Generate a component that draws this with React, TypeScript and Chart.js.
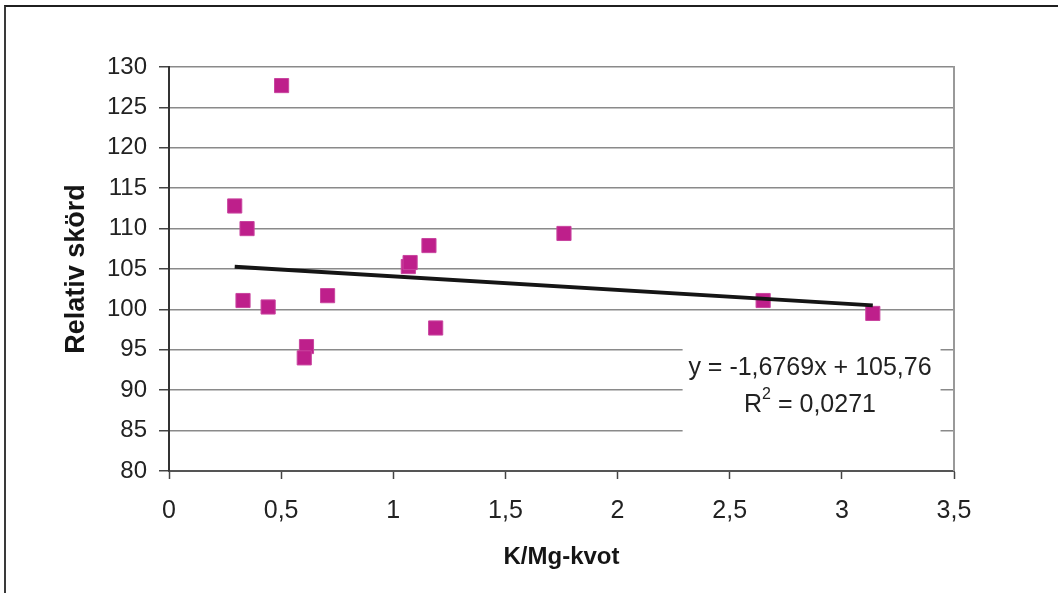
import React, { useEffect, useRef } from "react";
import { Chart, registerables } from "chart.js";

Chart.register(...registerables);

// K/Mg ratio (x) and relative yield (y)
const kmgRatio = [0.502, 0.293, 0.348, 1.067, 1.075, 1.159, 0.33, 0.442, 0.707, 0.613, 0.603, 1.189, 2.649, 3.138, 1.761];
const relativeYield = [127.7, 112.8, 110.0, 105.3, 105.8, 107.9, 101.1, 100.3, 101.7, 95.4, 94.0, 97.7, 101.1, 99.5, 109.4];

// Linear trend line (from the chart's equation label)
const trendSlope = -1.6769;
const trendIntercept = 105.76;
const equationLine1 = "y = -1,6769x + 105,76";
const equationLine2Prefix = "R";
const equationLine2Sup = "2";
const equationLine2Rest = " = 0,0271";

// Axes
const xMin = 0;
const xMax = 3.5;
const xStep = 0.5;
const yMin = 80;
const yMax = 130;
const yStep = 5;
const xTitle = "K/Mg-kvot";
const yTitle = "Relativ skörd";

// Equation label box position (data units)
const labelBoxX = [2.29, 3.44];
const labelBoxY = [95.6, 83.2];
const labelCenterX = 2.858;
const labelLineY = [92.75, 88.2];

const FONT = "'Liberation Sans', Arial, Helvetica, sans-serif";

const equationPlugin = {
  id: "equationBox",
  beforeDatasetsDraw(chart: any) {
    const { ctx, chartArea } = chart;
    ctx.save();
    ctx.strokeStyle = "#999999";
    ctx.lineWidth = 2;
    ctx.beginPath();
    ctx.moveTo(chartArea.right, chartArea.top - 1);
    ctx.lineTo(chartArea.right, chartArea.bottom);
    ctx.stroke();
    ctx.restore();
  },
  afterDatasetsDraw(chart: any) {
    const { ctx } = chart;
    const xs = chart.scales.x;
    const ys = chart.scales.y;
    const x1 = xs.getPixelForValue(labelBoxX[0]);
    const x2 = xs.getPixelForValue(labelBoxX[1]);
    const y1 = ys.getPixelForValue(labelBoxY[0]);
    const y2 = ys.getPixelForValue(labelBoxY[1]);
    ctx.save();
    ctx.fillStyle = "#ffffff";
    ctx.fillRect(x1, y1, x2 - x1, y2 - y1);
    const cx = xs.getPixelForValue(labelCenterX);
    ctx.fillStyle = "#222222";
    ctx.textBaseline = "middle";
    ctx.textAlign = "center";
    ctx.font = `25px ${FONT}`;
    ctx.fillText(equationLine1, cx, ys.getPixelForValue(labelLineY[0]));
    // second line with superscript
    const ly = ys.getPixelForValue(labelLineY[1]);
    ctx.font = `25px ${FONT}`;
    const wR = ctx.measureText(equationLine2Prefix).width;
    const wRest = ctx.measureText(equationLine2Rest).width;
    ctx.font = `16px ${FONT}`;
    const wSup = ctx.measureText(equationLine2Sup).width;
    const total = wR + wSup + wRest;
    let sx = cx - total / 2;
    ctx.textAlign = "left";
    ctx.font = `25px ${FONT}`;
    ctx.fillText(equationLine2Prefix, sx, ly);
    sx += wR;
    ctx.font = `16px ${FONT}`;
    ctx.fillText(equationLine2Sup, sx, ly - 10);
    sx += wSup;
    ctx.font = `25px ${FONT}`;
    ctx.fillText(equationLine2Rest, sx, ly);
    ctx.restore();
  },
};

export default function App() {
  const canvasRef = useRef<HTMLCanvasElement | null>(null);

  useEffect(() => {
    if (!canvasRef.current) return;
    const points = kmgRatio.map((x, i) => ({ x, y: relativeYield[i] }));
    const tMin = Math.min(...kmgRatio);
    const tMax = Math.max(...kmgRatio);
    const trend = [
      { x: tMin, y: trendSlope * tMin + trendIntercept },
      { x: tMax, y: trendSlope * tMax + trendIntercept },
    ];
    const chart = new Chart(canvasRef.current, {
      type: "scatter",
      data: {
        datasets: [
          {
            label: "Trend",
            type: "line",
            data: trend,
            borderColor: "#151515",
            borderWidth: 4,
            pointRadius: 0,
            fill: false,
            order: 0,
          } as any,
          {
            label: "Relativ skörd",
            data: points,
            pointStyle: "rect",
            pointRadius: 10,
            pointHoverRadius: 10,
            backgroundColor: "#BE1F8B",
            borderColor: "#C9459F",
            borderWidth: 1,
            order: 1,
          },
        ],
      },
      options: {
        animation: false,
        responsive: false,
        maintainAspectRatio: false,
        events: [],
        layout: { padding: { left: 0, top: 67, right: 104, bottom: 0 } },
        plugins: { legend: { display: false }, tooltip: { enabled: false } },
        scales: {
          x: {
            type: "linear",
            min: xMin,
            max: xMax,
            afterFit(scale: any) {
              scale.height = 122;
            },
            afterBuildTicks(scale: any) {
              const t = [];
              for (let v = xMin; v <= xMax + 1e-9; v += xStep) t.push({ value: Math.round(v * 10) / 10 });
              scale.ticks = t;
            },
            ticks: {
              color: "#222222",
              font: { family: FONT, size: 25 },
              padding: 17,
              maxRotation: 0,
              callback: (v: any) => String(v).replace(".", ","),
            },
            grid: {
              drawOnChartArea: false,
              drawTicks: true,
              tickLength: 8,
              tickColor: "#444444",
              tickWidth: 1.5,
            },
            border: { color: "#555555", width: 2 },
            title: {
              display: true,
              text: xTitle,
              color: "#151515",
              font: { family: FONT, size: 24, weight: "bold" },
              padding: { top: 0, bottom: 21 },
            },
          },
          y: {
            type: "linear",
            min: yMin,
            max: yMax,
            afterFit(scale: any) {
              scale.width = 169;
            },
            ticks: {
              stepSize: yStep,
              color: "#222222",
              font: { family: FONT, size: 24 },
              padding: 12,
            },
            grid: {
              color: "#8a8a8a",
              lineWidth: 1.5,
              drawTicks: true,
              tickLength: 10,
              tickColor: "#444444",
              tickWidth: 1.5,
            },
            border: { color: "#333333", width: 2 },
            title: {
              display: true,
              text: yTitle,
              color: "#151515",
              font: { family: FONT, size: 27, weight: "bold" },
              padding: { top: 60, bottom: 0 },
            },
          },
        },
      },
      plugins: [equationPlugin],
    });
    return () => chart.destroy();
  }, []);

  return (
    <div style={{ position: "fixed", left: 0, top: 0, width: 1058, height: 593, background: "#ffffff", overflow: "hidden" }}>
      <canvas ref={canvasRef} width={1058} height={593} style={{ position: "absolute", left: 0, top: 0, width: 1058, height: 593 }} />
      <div
        style={{
          position: "absolute",
          left: 4,
          top: 5,
          width: 1200,
          height: 800,
          borderLeft: "2px solid #3a3a3a",
          borderTop: "2px solid #1f1f1f",
          pointerEvents: "none",
        }}
      />
    </div>
  );
}
